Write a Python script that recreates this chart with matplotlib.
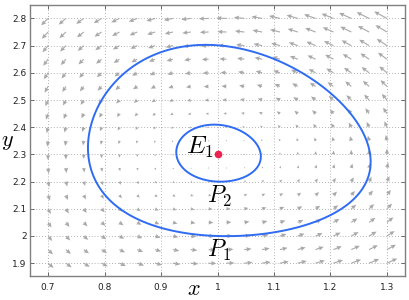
import numpy as np
import matplotlib
matplotlib.use("Agg")
import matplotlib.pyplot as plt

plt.rcParams['mathtext.fontset'] = 'cm'
plt.rcParams['font.family'] = ['DejaVu Sans']

# predator-prey field, equilibrium E1 = (1, 2.3)
alpha, beta, gamma, delta = 2.645, 1.15, 1.0, 1.0
# conserved quantity used for the closed orbits
d_x, y_shift, cross = 2.45, 1.5, 0.13

E1 = (1.0, 2.3)
P1 = (1.0, 2.0)
P2 = (1.0, 2.2)

grid_x = np.linspace(0.7, 1.3, 20)
grid_y = np.linspace(1.9, 2.8, 19)

xticks = [0.7, 0.8, 0.9, 1.0, 1.1, 1.2, 1.3]
xticklabels = ['0.7', '0.8', '0.9', '1', '1.1', '1.2', '1.3']
yticks = [1.9, 2.0, 2.1, 2.2, 2.3, 2.4, 2.5, 2.6, 2.7, 2.8]
yticklabels = ['1.9', '2', '2.1', '2.2', '2.3', '2.4', '2.5', '2.6', '2.7', '2.8']


def H(x, y):
    q = E1[1] - y_shift
    return (d_x * (x - np.log(x)) + (y - y_shift) - q * np.log(y - y_shift)
            + cross * (x - E1[0]) * (y - E1[1]))


fig = plt.figure(figsize=(4.09, 3.0), dpi=100)
ax = fig.add_axes([0.0733, 0.081, 0.917, 0.902])

X, Y = np.meshgrid(grid_x, grid_y)
U = X * (alpha - beta * Y)
V = Y * (delta * X - gamma)
ax.quiver(X, Y, U, V, angles='xy', scale_units='xy', scale=33,
          color='#a9a9a9', width=0.003, headwidth=4, headlength=4.5,
          headaxislength=4, zorder=2)

cx = np.linspace(0.66, 1.34, 500)
cy = np.linspace(1.85, 2.85, 500)
CX, CY = np.meshgrid(cx, cy)
levels = sorted([H(*P2), H(*P1)])
ax.contour(CX, CY, H(CX, CY), levels=levels, colors='#2f6cf3',
           linewidths=1.4, zorder=3)

ax.plot(E1[0], E1[1], 'o', color='#f0204f', markersize=4.5, zorder=4)
ax.text(0.945, 2.301, r'$E_1$', fontsize=18, ha='left', va='baseline', zorder=5)
ax.text(0.981, 2.121, r'$P_2$', fontsize=17, ha='left', va='baseline', zorder=5)
ax.text(0.981, 1.924, r'$P_1$', fontsize=17, ha='left', va='baseline', zorder=5)

ax.set_xlim(0.668, 1.332)
ax.set_ylim(1.854, 2.849)
ax.set_xticks(xticks)
ax.set_xticklabels(xticklabels)
ax.set_yticks(yticks)
ax.set_yticklabels(yticklabels)
ax.tick_params(direction='in', top=True, right=True, length=3, width=0.6,
               labelsize=6.5, colors='#555555', labelcolor='#222222')
ax.tick_params(axis='x', pad=5)
ax.tick_params(axis='y', pad=2.5)
ax.grid(True, linestyle=(0, (1, 2.5)), color='#9a9a9a', linewidth=0.6)
ax.set_axisbelow(True)
for s in ax.spines.values():
    s.set_color('#808080')
    s.set_linewidth(1.0)

ax.set_xlabel(r'$x$', fontsize=16, va='baseline')
ax.xaxis.set_label_coords(0.437, -0.072)
ax.set_ylabel(r'$y$', fontsize=16, rotation=0, va='center', ha='center')
ax.yaxis.set_label_coords(-0.061, 0.494)

fig.savefig('out.png', dpi=100)
